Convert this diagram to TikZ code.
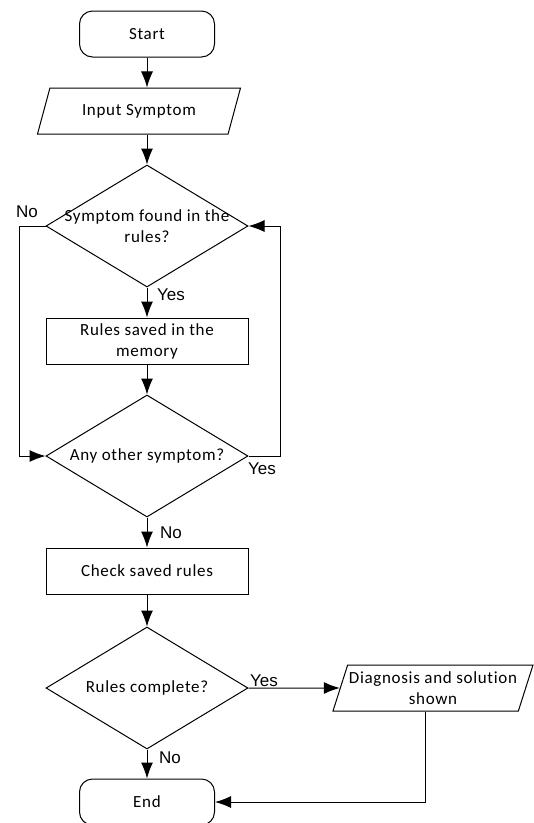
\documentclass[tikz,border=0pt]{standalone}
\usepackage{fontspec}
\setmainfont{Carlito}[Ligatures=NoCommon,LetterSpace=4]
\newfontfamily\lblfont{Liberation Sans}
\usetikzlibrary{shapes.geometric,arrows.meta}

\begin{document}
\begin{tikzpicture}[x=1pt,y=-1pt,line width=1pt,
  boxfont/.style={font=\fontsize{17}{21}\selectfont},
  terminal/.style={draw, boxfont, rounded corners=13pt, minimum width=135pt, minimum height=46pt},
  io/.style={draw, boxfont, trapezium, trapezium stretches body, align=center, inner xsep=0pt, minimum height=46pt},
  process/.style={draw, boxfont, align=center, minimum width=202pt, minimum height=46pt},
  decision/.style={draw, diamond, inner sep=0pt, minimum width=202pt, minimum height=122pt},
  dtext/.style={boxfont, align=center, inner sep=0pt},
  lbl/.style={font=\lblfont\fontsize{17}{20}\selectfont, inner sep=0pt},
  arr/.style={-{Latex[length=16pt,width=12pt]}}]
\useasboundingbox (0,0) rectangle (534,823);

\node[terminal] (start) at (147,34) {Start};
\node[io, trapezium left angle=58.7, trapezium right angle=121.3, minimum width=203pt] (input) at (139,111) {Input Symptom};
\node[decision] (found) at (147,226) {};
\node[dtext] (foundtxt) at (found) {Symptom found in the\\rules?};
\node[process] (saved) at (147,341) {Rules saved in the\\memory};
\node[decision] (other) at (147,456) {};
\node[dtext] (othertxt) at (other) {Any other symptom?};
\node[process] (check) at (147,571) {Check saved rules};
\node[decision] (complete) at (147,688) {};
\node[dtext] (completetxt) at (complete) {Rules complete?};
\node[io, trapezium left angle=69.7, trapezium right angle=110.3, minimum width=200pt] (diag) at (433,688) {Diagnosis and solution\\shown};
\node[terminal] (end) at (147,802) {End};

% branch labels
\node[lbl] (no1) at (27,212) {No};
\node[lbl] (yes1) at (171,295) {Yes};
\node[lbl] (yes2) at (262,469) {Yes};
\node[lbl] (no2) at (171,533) {No};
\node[lbl] (yes3) at (264,681) {Yes};
\node[lbl] (no3) at (170,758) {No};

\draw[arr] (start) -- (start |- input.north);
\draw[arr] (input.south -| found) -- (found);
\draw[arr] (found) -- (saved);
\draw[arr] (saved) -- (other);
\draw[arr] (other) -- (check);
\draw[arr] (check) -- (complete);
\draw[arr] (complete) -- (end);
\draw[arr] (complete) -- (diag);
\draw[arr] (diag.bottom side) |- (end);
\draw[arr] (found.west) -- ++(-26,0) |- (other.west);
\draw[arr] (other.east) -- ++(32,0) |- (found.east);
\end{tikzpicture}
\end{document}
